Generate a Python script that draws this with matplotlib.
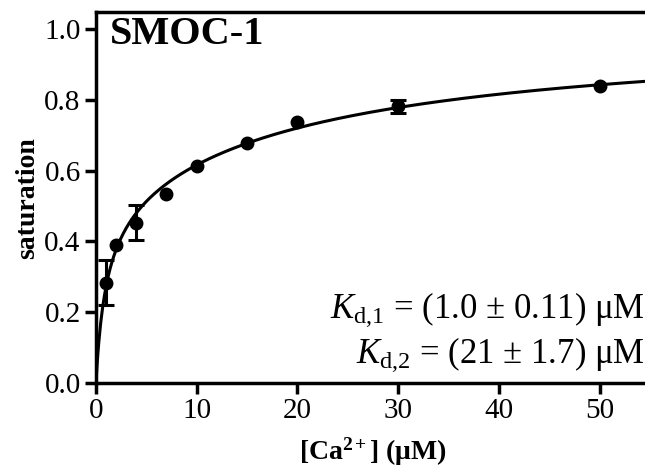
import numpy as np
import matplotlib
matplotlib.use("Agg")
import matplotlib.pyplot as plt

# data
ca_conc = [1, 2, 4, 7, 10, 15, 20, 30, 50]
saturation = [0.283, 0.390, 0.453, 0.533, 0.614, 0.677, 0.738, 0.781, 0.839]
sat_err = [0.063, 0.0, 0.050, 0.0, 0.0, 0.0, 0.0, 0.018, 0.0]
kd1 = 1.0
kd2 = 21.0
x_ticks = [0, 10, 20, 30, 40, 50]
y_ticks = [0.0, 0.2, 0.4, 0.6, 0.8, 1.0]

plt.rcParams['font.family'] = ['Liberation Serif', 'DejaVu Serif']
plt.rcParams['mathtext.fontset'] = 'custom'
plt.rcParams['mathtext.rm'] = 'Liberation Serif'
plt.rcParams['mathtext.it'] = 'Liberation Serif:italic'
plt.rcParams['mathtext.bf'] = 'Liberation Serif:bold'

fig = plt.figure(figsize=(6.45, 4.71), dpi=100)
ax = fig.add_axes([96/645, (471-383)/471, (55*10.07)/645, (383-12.3)/471])

# fitted two-site model curve
xc = np.linspace(0, 56, 600)
yc = 0.5 * xc / (xc + kd1) + 0.5 * xc / (xc + kd2)
ax.plot(xc, yc, color='black', lw=2.2, zorder=2)

x = np.array(ca_conc, float)
y = np.array(saturation)
e = np.array(sat_err)
m = e > 0
ax.errorbar(x[m], y[m], yerr=e[m], fmt='none', ecolor='black', elinewidth=2.2,
            capsize=6, capthick=2.2, zorder=3)
ax.plot(x, y, 'o', color='black', ms=9, zorder=4)

ax.set_xlim(0, 55)
ax.set_ylim(0, 1.047)
ax.set_xticks(x_ticks)
ax.set_yticks(y_ticks)
ax.set_yticklabels([f"{v:.1f}" for v in y_ticks])
for s in ['left', 'bottom', 'top', 'right']:
    ax.spines[s].set_linewidth(2.5)
ax.tick_params(direction='out', length=8, width=2.5, labelsize=21, pad=3)

ax.set_ylabel('saturation', fontsize=20, fontweight='bold', labelpad=3)
ax.set_xlabel(r'[Ca$^{\mathbf{2+}}$] ($\mathbf{\mu}$M)', fontsize=20, fontweight='bold', labelpad=8)

ax.text(0.025, 0.99, 'SMOC-1', transform=ax.transAxes, fontsize=29, fontweight='bold',
        va='top', ha='left')
fig.text(0.999, (471-318)/471, r'$K_{\mathrm{d{,}1}}$ = (1.0 ± 0.11) μM', fontsize=25,
         ha='right', va='baseline')
fig.text(0.999, (471-363)/471, r'$K_{\mathrm{d{,}2}}$ = (21 ± 1.7) μM', fontsize=25,
         ha='right', va='baseline')

fig.savefig('out.png', dpi=100)
